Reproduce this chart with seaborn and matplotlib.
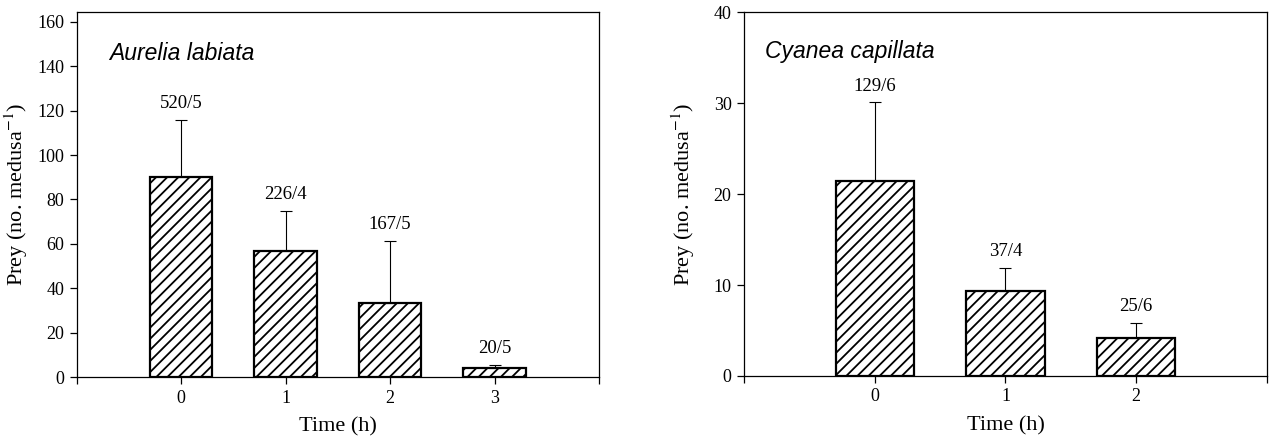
import numpy as np
import pandas as pd
import matplotlib
matplotlib.use("Agg")
import matplotlib.pyplot as plt
import seaborn as sns

# ---- data ----
aur_times = ["0", "1", "2", "3"]
aur_mean = [90.0, 56.6, 33.5, 4.1]
aur_upper = [115.7, 75.0, 61.4, 5.6]
aur_labels = ["520/5", "226/4", "167/5", "20/5"]

cya_times = ["0", "1", "2"]
cya_mean = [21.5, 9.3, 4.15]
cya_upper = [30.1, 11.9, 5.8]
cya_labels = ["129/6", "37/4", "25/6"]

aur_yticks = [0, 20, 40, 60, 80, 100, 120, 140, 160]
cya_yticks = [0, 10, 20, 30, 40]

sns.set_style("ticks")
plt.rcParams["font.family"] = ["Liberation Serif", "DejaVu Serif"]
plt.rcParams["mathtext.fontset"] = "stix"
plt.rcParams["hatch.color"] = "black"
plt.rcParams["hatch.linewidth"] = 1.3
for k in ["text.color", "axes.labelcolor", "xtick.color", "ytick.color"]:
    plt.rcParams[k] = "black"

fig = plt.figure(figsize=(12.69, 4.41), dpi=100)
axL = fig.add_axes([0.0604, 0.1451, 0.4116, 0.827])
axR = fig.add_axes([0.5863, 0.1474, 0.4121, 0.8247])


def panel(ax, times, mean, upper, labels, yticks, ytop, xmax, title, tx, ty):
    df = pd.DataFrame({"time": times, "prey": mean})
    sns.barplot(data=df, x="time", y="prey", order=times, width=0.6,
                color="white", edgecolor="black", linewidth=1.6,
                errorbar=None, ax=ax)
    for p in ax.patches:
        p.set_facecolor("white")
        p.set_hatch("///")
        p.set_edgecolor("black")
    xs = np.arange(len(times))
    mean_a = np.array(mean)
    up_a = np.array(upper)
    ax.errorbar(xs, mean_a, yerr=[np.zeros_like(mean_a), up_a - mean_a],
                fmt="none", ecolor="black", elinewidth=0.8, capsize=4,
                capthick=0.8, zorder=1)
    for x, u, lab in zip(xs, up_a, labels):
        ax.annotate(lab, xy=(x, u), xytext=(0, 8.5), textcoords="offset points",
                    ha="center", va="baseline", fontsize=13.5)
    ax.set_xlim(-1, xmax)
    ax.set_ylim(0, ytop)
    ax.set_xticks(list(range(-1, xmax + 1)))
    ax.set_xticklabels([""] + list(times) + [""], fontsize=13)
    ax.set_yticks(yticks)
    ax.set_yticklabels([str(v) for v in yticks], fontsize=13)
    ax.tick_params(axis="both", direction="out", length=5, width=0.9,
                   color="black", pad=4)
    for s in ax.spines.values():
        s.set_visible(True)
        s.set_linewidth(0.9)
        s.set_color("black")
    ax.set_xlabel("Time (h)", fontsize=16)
    ax.set_ylabel("Prey (no. medusa$^{-1}$)", fontsize=16)
    ax.yaxis.set_label_coords(-0.09, 0.5)
    ax.xaxis.set_label_coords(0.5, -0.11)
    ax.text(tx, ty, title, transform=ax.transAxes, fontsize=16.5,
            style="italic", family=["Liberation Sans", "DejaVu Sans"],
            ha="left", va="center")


panel(axL, aur_times, aur_mean, aur_upper, aur_labels, aur_yticks, 164.3, 4,
      "Aurelia labiata", 0.063, 0.888)
panel(axR, cya_times, cya_mean, cya_upper, cya_labels, cya_yticks, 40.0, 3,
      "Cyanea capillata", 0.040, 0.891)

fig.savefig("out.png", dpi=100)
